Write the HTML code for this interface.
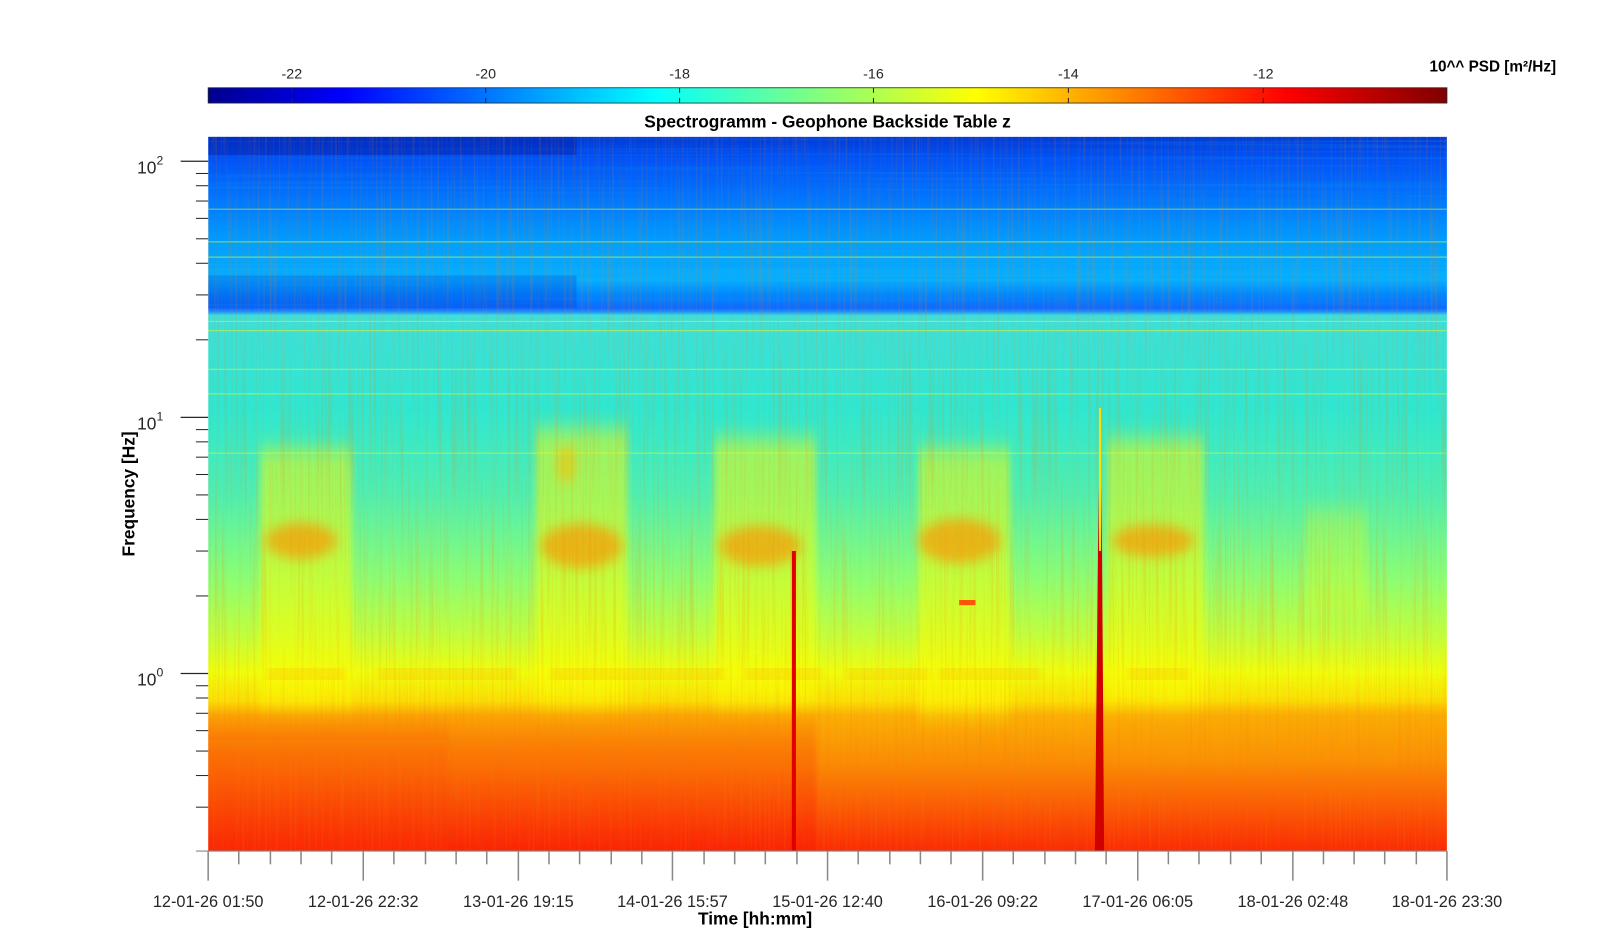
<!DOCTYPE html>
<html><head><meta charset="utf-8"><style>
html,body{margin:0;padding:0;background:#fff;overflow:hidden;width:1600px;height:948px}
svg{display:block}
svg text{font-family:"Liberation Sans",Arial,sans-serif;fill:#262626}
</style></head><body>
<svg width="1600" height="948" viewBox="0 0 1568 929" preserveAspectRatio="none" xmlns="http://www.w3.org/2000/svg">
<defs>
<linearGradient id="jet" x1="0" x2="1" y1="0" y2="0">
<stop offset="0" stop-color="#00008f"/><stop offset="0.11" stop-color="#0000ff"/>
<stop offset="0.36" stop-color="#00ffff"/><stop offset="0.62" stop-color="#ffff00"/>
<stop offset="0.87" stop-color="#ff0000"/><stop offset="1" stop-color="#800000"/>
</linearGradient>
<linearGradient id="spec" x1="0" x2="0" y1="0" y2="1">
<stop offset="0" stop-color="#0038d8"/>
<stop offset="0.03" stop-color="#0050f8"/>
<stop offset="0.08" stop-color="#0070ff"/>
<stop offset="0.15" stop-color="#00a0ff"/>
<stop offset="0.2" stop-color="#08b0ff"/>
<stop offset="0.22" stop-color="#0088ff"/>
<stop offset="0.24" stop-color="#1068ff"/>
<stop offset="0.245" stop-color="#2090ff"/>
<stop offset="0.25" stop-color="#40e0d8"/>
<stop offset="0.38" stop-color="#30e8d0"/>
<stop offset="0.5" stop-color="#50f0b0"/>
<stop offset="0.62" stop-color="#90ff70"/>
<stop offset="0.70" stop-color="#c8ff38"/>
<stop offset="0.75" stop-color="#f4ff08"/>
<stop offset="0.79" stop-color="#ffe000"/>
<stop offset="0.81" stop-color="#ffb000"/>
<stop offset="0.88" stop-color="#ff8800"/>
<stop offset="0.95" stop-color="#ff5000"/>
<stop offset="1" stop-color="#ff2800"/>
</linearGradient>
<linearGradient id="fadeR" x1="0" x2="0" y1="0" y2="1">
<stop offset="0" stop-color="#ff1800" stop-opacity="0"/><stop offset="0.3" stop-color="#ff1800" stop-opacity="0.3"/><stop offset="1" stop-color="#ff1000" stop-opacity="0.35"/>
</linearGradient>
<filter id="vn" x="0" y="0" width="100%" height="100%">
<feTurbulence type="fractalNoise" baseFrequency="0.45 0.006" numOctaves="2" seed="3"/>
<feColorMatrix type="matrix" values="0 0 0 0 1  0 0 0 0 0.2  0 0 0 0 0  2 0 0 0 -0.95"/>
</filter>
<filter id="hn" x="0" y="0" width="100%" height="100%">
<feTurbulence type="fractalNoise" baseFrequency="0.002 0.35" numOctaves="2" seed="7"/>
<feColorMatrix type="matrix" values="0 0 0 0 0  0 0 0 0 0.3  0 0 0 0 1  2.2 0 0 0 -1.1"/>
</filter>
<filter id="pn" x="0" y="0" width="100%" height="100%">
<feTurbulence type="fractalNoise" baseFrequency="0.9 0.9" numOctaves="1" seed="2"/>
<feColorMatrix type="matrix" values="0 0 0 0 0  0 0 0 0 0.5  0 0 0 0 0.9  1.5 0 0 0 -0.6"/>
</filter>
<filter id="bl"><feGaussianBlur stdDeviation="6"/></filter>
<filter id="bl2"><feGaussianBlur stdDeviation="3 10"/></filter>
<filter id="bl3"><feGaussianBlur stdDeviation="2 6"/></filter>
<clipPath id="pc"><rect x="204" y="134" width="1214" height="700"/></clipPath>
</defs>

<rect x="204" y="86" width="1214" height="15" fill="url(#jet)" stroke="#262626" stroke-width="0.8"/>
<g stroke="#262626" stroke-width="1">
<line x1="286" y1="86" x2="286" y2="91"/><line x1="476" y1="86" x2="476" y2="91"/><line x1="666" y1="86" x2="666" y2="91"/><line x1="856" y1="86" x2="856" y2="91"/><line x1="1047" y1="86" x2="1047" y2="91"/><line x1="1238" y1="86" x2="1238" y2="91"/>
<line x1="286" y1="101" x2="286" y2="96"/><line x1="476" y1="101" x2="476" y2="96"/><line x1="666" y1="101" x2="666" y2="96"/><line x1="856" y1="101" x2="856" y2="96"/><line x1="1047" y1="101" x2="1047" y2="96"/><line x1="1238" y1="101" x2="1238" y2="96"/>
</g>
<g font-size="14" text-anchor="middle">
<text x="286" y="77">-22</text><text x="476" y="77">-20</text><text x="666" y="77">-18</text><text x="856" y="77">-16</text><text x="1047" y="77">-14</text><text x="1238" y="77">-12</text>
</g>
<text x="1525" y="70" font-size="15" font-weight="bold" text-anchor="end" style="fill:#000">10^^ PSD [m²/Hz]</text>
<text x="811" y="125" font-size="17" font-weight="bold" text-anchor="middle" style="fill:#000">Spectrogramm - Geophone Backside Table z</text>

<g clip-path="url(#pc)">
<rect x="204" y="134" width="1214" height="700" fill="url(#spec)"/>
<rect x="204" y="134" width="361" height="18" fill="#0020b0" opacity="0.5"/>
<rect x="204" y="270" width="361" height="32" fill="#0040e0" opacity="0.3"/>
<rect x="204" y="134" width="1214" height="175" filter="url(#hn)" opacity="0.4"/>
<g stroke="#d8ff40" stroke-width="1.2" opacity="0.55">
<line x1="204" y1="205" x2="1418" y2="205"/><line x1="204" y1="237" x2="1418" y2="237"/><line x1="204" y1="252" x2="1418" y2="252"/>
<line x1="204" y1="315" x2="1418" y2="315"/><line x1="204" y1="324" x2="1418" y2="324"/><line x1="204" y1="362" x2="1418" y2="362"/><line x1="204" y1="386" x2="1418" y2="386"/><line x1="204" y1="444" x2="1418" y2="444"/>
</g>
<g filter="url(#bl3)">
<rect x="200" y="690" width="240" height="150" fill="url(#fadeR)"/>
<rect x="440" y="685" width="360" height="155" fill="url(#fadeR)" opacity="0.6"/>
</g>
<rect x="1090" y="690" width="328" height="60" fill="#ffa000" opacity="0.2" filter="url(#bl3)"/>
<g filter="url(#bl2)" fill="#ffff00" opacity="0.5">
<rect x="255" y="440" width="90" height="250"/>
<rect x="525" y="420" width="90" height="270"/>
<rect x="700" y="430" width="100" height="260"/>
<rect x="900" y="440" width="90" height="260"/>
<rect x="1085" y="430" width="95" height="260"/>
<rect x="1280" y="500" width="60" height="100" opacity="0.5"/>
</g>
<g filter="url(#bl)" fill="#ff9a00" opacity="0.7">
<ellipse cx="295" cy="530" rx="35" ry="18"/>
<ellipse cx="570" cy="535" rx="40" ry="22"/>
<ellipse cx="745" cy="535" rx="40" ry="20"/>
<ellipse cx="940" cy="530" rx="40" ry="22"/>
<ellipse cx="1130" cy="530" rx="40" ry="16"/>
<ellipse cx="555" cy="455" rx="8" ry="20" fill="#ffc000"/>
</g>
<g fill="#ffb000" opacity="0.7" filter="url(#bl2)">
<rect x="262" y="656" width="75" height="9"/><rect x="370" y="656" width="135" height="9"/>
<rect x="540" y="656" width="170" height="9"/><rect x="730" y="656" width="75" height="9"/>
<rect x="830" y="656" width="80" height="9"/><rect x="920" y="656" width="100" height="9"/>
<rect x="1105" y="656" width="60" height="9"/>
</g>
<rect x="940" y="588" width="16" height="5" fill="#ff5000"/>
<rect x="204" y="134" width="1214" height="700" filter="url(#vn)" opacity="0.3"/>
<rect x="204" y="134" width="1214" height="700" filter="url(#pn)" opacity="0.12"/>
<polygon points="776,540 780,540 780,834 776,834" fill="#e00000"/>
<polygon points="1078,410 1080,540 1082,834 1073,834 1076,540" fill="#d00000"/>
<line x1="1078" y1="400" x2="1078" y2="540" stroke="#ffe000" stroke-width="2"/>
</g>

<g stroke="#262626" stroke-width="1.2">
<line x1="177" y1="158" x2="204" y2="158"/><line x1="177" y1="409" x2="204" y2="409"/><line x1="177" y1="660" x2="204" y2="660"/>
</g>
<g stroke="#262626" stroke-width="1">
<line x1="192" y1="791" x2="204" y2="791"/><line x1="192" y1="760" x2="204" y2="760"/><line x1="192" y1="736" x2="204" y2="736"/><line x1="192" y1="716" x2="204" y2="716"/><line x1="192" y1="699" x2="204" y2="699"/><line x1="192" y1="684" x2="204" y2="684"/><line x1="192" y1="672" x2="204" y2="672"/>
<line x1="192" y1="584" x2="204" y2="584"/><line x1="192" y1="540" x2="204" y2="540"/><line x1="192" y1="509" x2="204" y2="509"/><line x1="192" y1="485" x2="204" y2="485"/><line x1="192" y1="465" x2="204" y2="465"/><line x1="192" y1="448" x2="204" y2="448"/><line x1="192" y1="433" x2="204" y2="433"/><line x1="192" y1="421" x2="204" y2="421"/>
<line x1="192" y1="333" x2="204" y2="333"/><line x1="192" y1="289" x2="204" y2="289"/><line x1="192" y1="258" x2="204" y2="258"/><line x1="192" y1="234" x2="204" y2="234"/><line x1="192" y1="214" x2="204" y2="214"/><line x1="192" y1="197" x2="204" y2="197"/><line x1="192" y1="182" x2="204" y2="182"/><line x1="192" y1="170" x2="204" y2="170"/>
</g>
<g font-size="17" text-anchor="end">
<text x="160" y="170">10<tspan dy="-9" font-size="12">2</tspan></text>
<text x="160" y="421">10<tspan dy="-9" font-size="12">1</tspan></text>
<text x="160" y="672">10<tspan dy="-9" font-size="12">0</tspan></text>
</g>
<text transform="translate(132,484) rotate(-90)" font-size="17" font-weight="bold" text-anchor="middle" style="fill:#000">Frequency [Hz]</text>

<line x1="192" y1="834" x2="1418" y2="834" stroke="#888" stroke-width="1"/>
<g stroke="#888" stroke-width="1.5">
<line x1="204" y1="834" x2="204" y2="863"/><line x1="356" y1="834" x2="356" y2="863"/><line x1="508" y1="834" x2="508" y2="863"/><line x1="659" y1="834" x2="659" y2="863"/><line x1="811" y1="834" x2="811" y2="863"/><line x1="963" y1="834" x2="963" y2="863"/><line x1="1115" y1="834" x2="1115" y2="863"/><line x1="1267" y1="834" x2="1267" y2="863"/><line x1="1418" y1="834" x2="1418" y2="863"/>
<line x1="234" y1="834" x2="234" y2="847"/><line x1="265" y1="834" x2="265" y2="847"/><line x1="295" y1="834" x2="295" y2="847"/><line x1="325" y1="834" x2="325" y2="847"/>
<line x1="386" y1="834" x2="386" y2="847"/><line x1="417" y1="834" x2="417" y2="847"/><line x1="447" y1="834" x2="447" y2="847"/><line x1="477" y1="834" x2="477" y2="847"/>
<line x1="538" y1="834" x2="538" y2="847"/><line x1="568" y1="834" x2="568" y2="847"/><line x1="599" y1="834" x2="599" y2="847"/><line x1="629" y1="834" x2="629" y2="847"/>
<line x1="690" y1="834" x2="690" y2="847"/><line x1="720" y1="834" x2="720" y2="847"/><line x1="750" y1="834" x2="750" y2="847"/><line x1="781" y1="834" x2="781" y2="847"/>
<line x1="841" y1="834" x2="841" y2="847"/><line x1="872" y1="834" x2="872" y2="847"/><line x1="902" y1="834" x2="902" y2="847"/><line x1="932" y1="834" x2="932" y2="847"/>
<line x1="993" y1="834" x2="993" y2="847"/><line x1="1024" y1="834" x2="1024" y2="847"/><line x1="1054" y1="834" x2="1054" y2="847"/><line x1="1084" y1="834" x2="1084" y2="847"/>
<line x1="1145" y1="834" x2="1145" y2="847"/><line x1="1175" y1="834" x2="1175" y2="847"/><line x1="1206" y1="834" x2="1206" y2="847"/><line x1="1236" y1="834" x2="1236" y2="847"/>
<line x1="1297" y1="834" x2="1297" y2="847"/><line x1="1327" y1="834" x2="1327" y2="847"/><line x1="1357" y1="834" x2="1357" y2="847"/><line x1="1388" y1="834" x2="1388" y2="847"/>
</g>
<g font-size="16" text-anchor="middle">
<text x="204" y="889">12-01-26 01:50</text><text x="356" y="889">12-01-26 22:32</text><text x="508" y="889">13-01-26 19:15</text><text x="659" y="889">14-01-26 15:57</text><text x="811" y="889">15-01-26 12:40</text><text x="963" y="889">16-01-26 09:22</text><text x="1115" y="889">17-01-26 06:05</text><text x="1267" y="889">18-01-26 02:48</text><text x="1418" y="889">18-01-26 23:30</text>
</g>
<text x="740" y="906" font-size="17" font-weight="bold" text-anchor="middle" style="fill:#000">Time [hh:mm]</text>
</svg>
</body></html>
